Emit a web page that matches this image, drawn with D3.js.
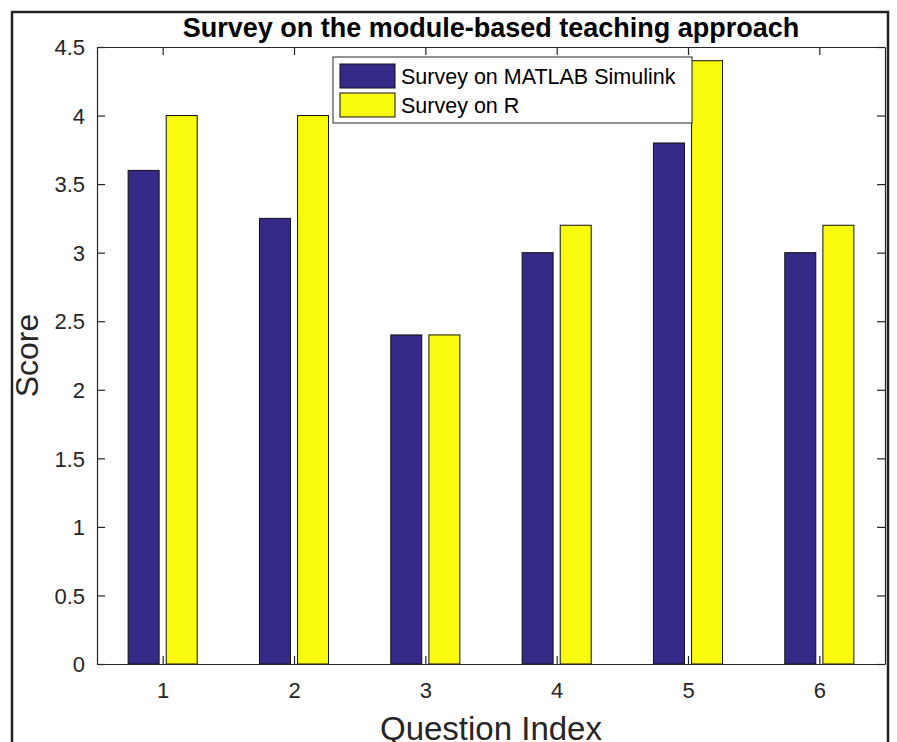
<!DOCTYPE html>
<html>
<head>
<meta charset="utf-8">
<script src="https://cdn.jsdelivr.net/npm/d3@7"></script>
<style>
  body { margin: 0; background: #fff; }
  text { font-family: 'Liberation Sans', Arial, sans-serif; }
</style>
</head>
<body>
<div id="wrapper"></div>
<script>
// data
const questions = [1, 2, 3, 4, 5, 6];
const matlabScores = [3.6, 3.25, 2.4, 3.0, 3.8, 3.0];
const rScores = [4.0, 4.0, 2.4, 3.2, 4.4, 3.2];
const seriesNames = ['Survey on MATLAB Simulink', 'Survey on R'];
const yTicks = [0, 0.5, 1, 1.5, 2, 2.5, 3, 3.5, 4, 4.5];

function drawChart() {
  const dimensions = {
    width: 897,
    height: 742,
    margin: { top: 47, right: 12, bottom: 78, left: 97 },
  };
  dimensions.innerWidth = dimensions.width - dimensions.margin.left - dimensions.margin.right;
  dimensions.innerHeight = dimensions.height - dimensions.margin.top - dimensions.margin.bottom;

  const wrapper = d3.select('#wrapper')
    .append('svg')
    .attr('width', dimensions.width)
    .attr('height', dimensions.height);

  // outer frame
  wrapper.append('rect')
    .attr('x', 12).attr('y', 12)
    .attr('width', 876).attr('height', 760)
    .attr('fill', 'none')
    .attr('stroke', '#222')
    .attr('stroke-width', 2.5);

  const bounds = wrapper.append('g')
    .attr('transform', `translate(${dimensions.margin.left},${dimensions.margin.top})`);

  // scales
  const xScale = d3.scaleLinear()
    .domain([0.5, 6.5])
    .range([0, dimensions.innerWidth]);

  const yScale = d3.scaleLinear()
    .domain([0, 4.5])
    .range([dimensions.innerHeight, 0]);

  const series = [
    { name: seriesNames[0], values: matlabScores, color: '#352a87', offset: -0.145 },
    { name: seriesNames[1], values: rScores, color: '#f9fb0e', offset: 0.145 },
  ];
  const barW = 0.236;

  // bars
  series.forEach((s) => {
    bounds.append('g')
      .selectAll('rect')
      .data(questions)
      .join('rect')
      .attr('x', (d) => xScale(d + s.offset - barW / 2))
      .attr('y', (d, i) => yScale(s.values[i]))
      .attr('width', xScale(barW) - xScale(0))
      .attr('height', (d, i) => yScale(0) - yScale(s.values[i]))
      .attr('fill', s.color)
      .attr('stroke', '#111')
      .attr('stroke-width', 1);
  });

  // axes (matlab style: ticks inside, mirrored)
  const tickColor = '#262626';
  const xAxisBottom = bounds.append('g')
    .attr('transform', `translate(0,${dimensions.innerHeight})`)
    .call(d3.axisBottom(xScale).tickValues(questions).tickSizeInner(-8).tickSizeOuter(0)
      .tickPadding(18).tickFormat(d3.format('d')));
  const xAxisTop = bounds.append('g')
    .call(d3.axisTop(xScale).tickValues(questions).tickSizeInner(-8).tickSizeOuter(0).tickFormat(''));
  const yAxisLeft = bounds.append('g')
    .call(d3.axisLeft(yScale).tickValues(yTicks).tickSizeInner(-8).tickSizeOuter(0).tickPadding(12)
      .tickFormat((d) => d3.format('')(d)));
  const yAxisRight = bounds.append('g')
    .attr('transform', `translate(${dimensions.innerWidth},0)`)
    .call(d3.axisRight(yScale).tickValues(yTicks).tickSizeInner(-8).tickSizeOuter(0).tickFormat(''));

  [xAxisBottom, xAxisTop, yAxisLeft, yAxisRight].forEach((ax) => {
    ax.select('.domain').attr('stroke', tickColor).attr('stroke-width', 1.2);
    ax.selectAll('.tick line').attr('stroke', tickColor).attr('stroke-width', 1.2);
    ax.selectAll('.tick text')
      .attr('fill', '#262626')
      .style('font-size', '22px')
      .style('font-family', "'Liberation Sans', Arial, sans-serif");
  });
  yAxisLeft.selectAll('.tick text').attr('dy', '0.35em');

  // legend
  const legend = bounds.append('g')
    .attr('transform', `translate(${333 - dimensions.margin.left},${57 - dimensions.margin.top})`);
  legend.append('rect')
    .attr('width', 359).attr('height', 66)
    .attr('fill', '#fff')
    .attr('stroke', '#262626')
    .attr('stroke-width', 1);
  series.forEach((s, i) => {
    legend.append('rect')
      .attr('x', 7).attr('y', 7 + i * 29)
      .attr('width', 55).attr('height', 24)
      .attr('fill', s.color)
      .attr('stroke', '#111');
    legend.append('text')
      .attr('x', 68).attr('y', 19 + i * 29)
      .attr('dy', '0.35em')
      .attr('fill', '#000')
      .style('font-size', '21.5px')
      .text(s.name);
  });

  // title
  wrapper.append('text')
    .attr('x', dimensions.margin.left + dimensions.innerWidth / 2)
    .attr('y', 37)
    .attr('text-anchor', 'middle')
    .style('font-size', '27px')
    .style('font-weight', 'bold')
    .text('Survey on the module-based teaching approach');

  // axis labels
  wrapper.append('text')
    .attr('x', dimensions.margin.left + dimensions.innerWidth / 2)
    .attr('y', 740)
    .attr('text-anchor', 'middle')
    .attr('fill', '#262626')
    .style('font-size', '33px')
    .text('Question Index');

  wrapper.append('text')
    .attr('transform', `translate(38,${dimensions.margin.top + dimensions.innerHeight / 2}) rotate(-90)`)
    .attr('text-anchor', 'middle')
    .attr('fill', '#262626')
    .style('font-size', '32px')
    .text('Score');
}

drawChart();
</script>
</body>
</html>
